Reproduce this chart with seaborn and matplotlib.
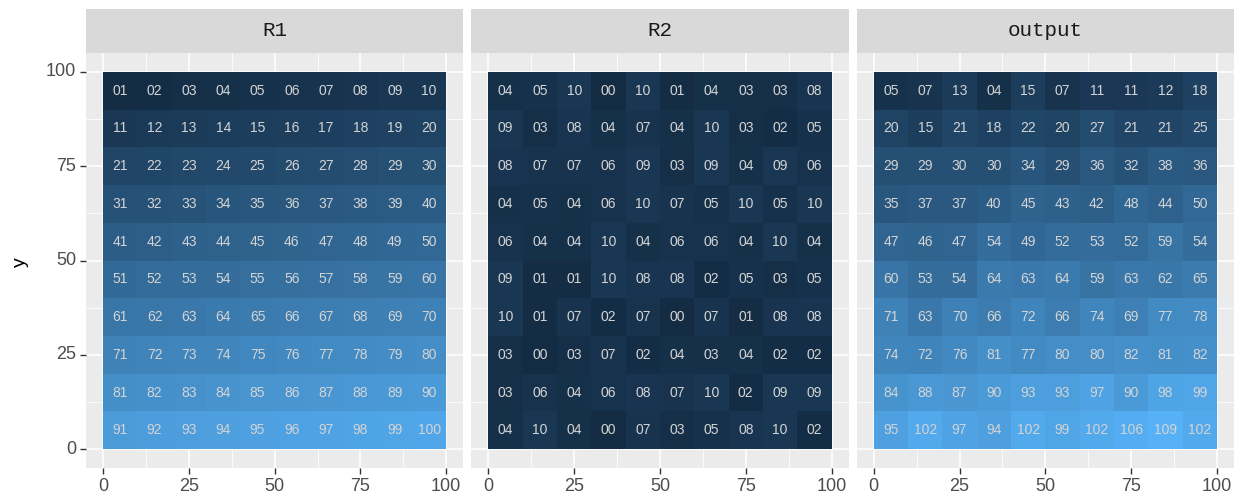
import matplotlib
matplotlib.use("Agg")
import matplotlib.pyplot as plt
import numpy as np
import seaborn as sns
from matplotlib.colors import LinearSegmentedColormap
from matplotlib.patches import Rectangle

# facet names
panels = ["R1", "R2", "output"]

# tile values, rows listed top (y=95) to bottom (y=5), columns x=5..95
r1 = [
    [1, 2, 3, 4, 5, 6, 7, 8, 9, 10],
    [11, 12, 13, 14, 15, 16, 17, 18, 19, 20],
    [21, 22, 23, 24, 25, 26, 27, 28, 29, 30],
    [31, 32, 33, 34, 35, 36, 37, 38, 39, 40],
    [41, 42, 43, 44, 45, 46, 47, 48, 49, 50],
    [51, 52, 53, 54, 55, 56, 57, 58, 59, 60],
    [61, 62, 63, 64, 65, 66, 67, 68, 69, 70],
    [71, 72, 73, 74, 75, 76, 77, 78, 79, 80],
    [81, 82, 83, 84, 85, 86, 87, 88, 89, 90],
    [91, 92, 93, 94, 95, 96, 97, 98, 99, 100],
]
r2 = [
    [4, 5, 10, 0, 10, 1, 4, 3, 3, 8],
    [9, 3, 8, 4, 7, 4, 10, 3, 2, 5],
    [8, 7, 7, 6, 9, 3, 9, 4, 9, 6],
    [4, 5, 4, 6, 10, 7, 5, 10, 5, 10],
    [6, 4, 4, 10, 4, 6, 6, 4, 10, 4],
    [9, 1, 1, 10, 8, 8, 2, 5, 3, 5],
    [10, 1, 7, 2, 7, 0, 7, 1, 8, 8],
    [3, 0, 3, 7, 2, 4, 3, 4, 2, 2],
    [3, 6, 4, 6, 8, 7, 10, 2, 9, 9],
    [4, 10, 4, 0, 7, 3, 5, 8, 10, 2],
]
output = [
    [5, 7, 13, 4, 15, 7, 11, 11, 12, 18],
    [20, 15, 21, 18, 22, 20, 27, 21, 21, 25],
    [29, 29, 30, 30, 34, 29, 36, 32, 38, 36],
    [35, 37, 37, 40, 45, 43, 42, 48, 44, 50],
    [47, 46, 47, 54, 49, 52, 53, 52, 59, 54],
    [60, 53, 54, 64, 63, 64, 59, 63, 62, 65],
    [71, 63, 70, 66, 72, 66, 74, 69, 77, 78],
    [74, 72, 76, 81, 77, 80, 80, 82, 81, 82],
    [84, 88, 87, 90, 93, 93, 97, 90, 98, 99],
    [95, 102, 97, 94, 102, 99, 102, 106, 109, 102],
]
axis_ticks = [0, 25, 50, 75, 100]
minor_ticks = [12.5, 37.5, 62.5, 87.5]

sns.set_theme(style="darkgrid", rc={
    "axes.facecolor": "#EBEBEB",
    "grid.color": "white",
    "figure.facecolor": "white",
})
plt.rcParams["font.family"] = ["Liberation Sans", "DejaVu Sans"]

cmap = LinearSegmentedColormap.from_list("gg", ["#132B43", "#56B1F7"])
grids = [np.array(r1), np.array(r2), np.array(output)]
vmin = min(g.min() for g in grids)
vmax = max(g.max() for g in grids)

fig, axes = plt.subplots(1, 3, figsize=(12.38, 5.01), dpi=100)
fig.subplots_adjust(left=86/1238, right=1234/1238, bottom=1-468/501, top=1-53/501, wspace=0.021)

# heatmap cell units -> data units (10 per cell, y runs upward)
def to_x(v):
    return v / 10

def to_y(v):
    return 10 - v / 10

for i, (ax, name, g) in enumerate(zip(axes, panels, grids)):
    labels = [[f"{v:02d}" for v in row] for row in g]
    sns.heatmap(g, ax=ax, cmap=cmap, vmin=vmin, vmax=vmax, cbar=False,
                annot=np.array(labels), fmt="", linewidths=0,
                annot_kws={"color": "#D4D4D4", "fontsize": 10})
    ax.set_xlim(-0.5, 10.5)
    ax.set_ylim(10.5, -0.5)
    ax.set_xticks([to_x(v) for v in axis_ticks])
    ax.set_xticklabels([str(v) for v in axis_ticks], rotation=0)
    ax.set_xticks([to_x(v) for v in minor_ticks], minor=True)
    ax.set_yticks([to_y(v) for v in axis_ticks])
    ax.set_yticklabels([str(v) for v in axis_ticks], rotation=0)
    ax.set_yticks([to_y(v) for v in minor_ticks], minor=True)
    ax.grid(which="major", color="white", linewidth=1.1)
    ax.grid(which="minor", color="white", linewidth=0.55)
    ax.set_axisbelow(True)
    for s in ax.spines.values():
        s.set_visible(False)
    ax.tick_params(which="minor", length=0)
    ax.tick_params(which="major", bottom=True, left=(i == 0), labelleft=(i == 0),
                   length=4, width=1, color="#333333", labelcolor="#4D4D4D",
                   labelsize=13, pad=3)
    ax.set_xlabel("")
    ax.set_ylabel("")
    # facet strip
    sh = 44 / 415
    ax.add_patch(Rectangle((0, 1), 1, sh, transform=ax.transAxes,
                           facecolor="#D9D9D9", edgecolor="none", clip_on=False))
    ax.text(0.5, 1 + sh / 2, name, transform=ax.transAxes, ha="center", va="center",
            fontfamily="Liberation Mono", fontsize=15, color="#1A1A1A")

fig.text(20/1238, 1-262/501, "y", rotation=90, ha="center", va="center",
         fontsize=14, color="black")

fig.savefig("out.png", dpi=100)
